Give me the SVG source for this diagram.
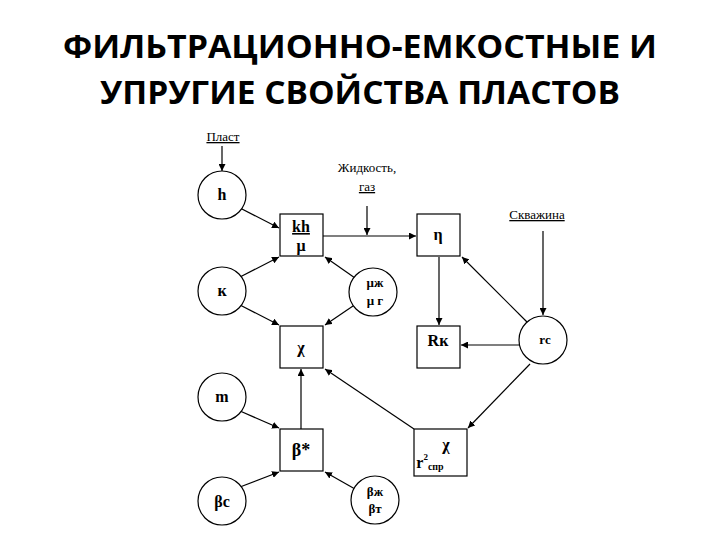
<svg xmlns="http://www.w3.org/2000/svg" width="720" height="540" viewBox="0 0 720 540">
<defs>
<marker id="a" viewBox="0 0 10 10" refX="10" refY="5" markerWidth="7" markerHeight="7" orient="auto" markerUnits="userSpaceOnUse"><path d="M0,0L10,5L0,10z" fill="#000"/></marker>
<style>
.t{font-family:"Open Sans","Liberation Sans",sans-serif;font-weight:bold;font-size:33px;text-anchor:middle}
.n circle,.n rect{fill:#fff;stroke:#000;stroke-width:1.2}
.n text,.l{font-family:"Liberation Serif",serif;text-anchor:middle;font-size:16px}
.n text{font-weight:bold}
.l{font-size:13px;text-decoration:underline}
#c line{stroke:#000;stroke-width:1.2;marker-end:url(#a)}
</style>
</defs>
<rect width="720" height="540" fill="#fff"/>
<text class="t" x="360" y="58" textLength="594" lengthAdjust="spacingAndGlyphs">ФИЛЬТРАЦИОННО-ЕМКОСТНЫЕ И</text>
<text class="t" x="360" y="104" textLength="520" lengthAdjust="spacingAndGlyphs">УПРУГИЕ СВОЙСТВА ПЛАСТОВ</text>
<text class="l" x="223" y="141">Пласт</text>
<text class="l" x="367" y="172" style="text-decoration:none">Жидкость,</text>
<text class="l" x="367" y="191">газ</text>
<text class="l" x="537" y="219">Скважина</text>
<g id="c">
<line x1="222" y1="146" x2="222" y2="171"/>
<line x1="367" y1="206" x2="367" y2="235"/>
<line x1="543" y1="231" x2="543" y2="315"/>
<line x1="240" y1="208" x2="279" y2="228"/>
<line x1="323" y1="236" x2="416" y2="236"/>
<line x1="439" y1="257" x2="439" y2="325"/>
<line x1="519" y1="345" x2="461" y2="345"/>
<line x1="527" y1="322" x2="462" y2="257"/>
<line x1="530" y1="364" x2="468" y2="428"/>
<line x1="414" y1="429" x2="325" y2="369"/>
<line x1="301" y1="429" x2="301" y2="369"/>
<line x1="240" y1="411" x2="279" y2="428"/>
<line x1="240" y1="487" x2="279" y2="472"/>
<line x1="355" y1="489" x2="325" y2="472"/>
<line x1="240" y1="277" x2="279" y2="257"/>
<line x1="240" y1="305" x2="279" y2="325"/>
<line x1="355" y1="278" x2="325" y2="257"/>
<line x1="353" y1="306" x2="325" y2="325"/>
</g>
<g id="h" class="n"><circle cx="222" cy="195" r="24"/><text x="222" y="200">h</text></g>
<g id="k" class="n"><circle cx="222" cy="291" r="24"/><text x="222" y="296">к</text></g>
<g id="mu" class="n"><circle cx="373" cy="292" r="24"/><text x="375" y="287" style="font-size:13px">μж</text><text x="375" y="305" style="font-size:13px">μ г</text></g>
<g id="m" class="n"><circle cx="222" cy="397" r="24"/><text x="222" y="402">m</text></g>
<g id="bc" class="n"><circle cx="222" cy="501" r="24"/><text x="222" y="507">βc</text></g>
<g id="bzh" class="n"><circle cx="375" cy="500" r="24"/><text x="375" y="496" style="font-size:13px">βж</text><text x="375" y="513" style="font-size:13px">βт</text></g>
<g id="rc" class="n"><circle cx="543" cy="340" r="24"/><text x="545" y="344" style="font-size:13px">rc</text></g>
<g id="kh" class="n"><rect x="280" y="214" width="43" height="42"/><text x="301" y="232" style="text-decoration:underline">kh</text><text x="301" y="251">μ</text></g>
<g id="chi" class="n"><rect x="280" y="326" width="43" height="42"/><text x="301" y="353">χ</text></g>
<g id="beta" class="n"><rect x="280" y="429" width="43" height="42"/><text x="301" y="456" style="font-size:18px">β*</text></g>
<g id="eta" class="n"><rect x="417" y="214" width="43" height="42"/><text x="438" y="240">η</text></g>
<g id="rk" class="n"><rect x="417" y="326" width="43" height="42"/><text x="438" y="346">Rк</text></g>
<g id="chir" class="n"><rect x="414" y="429" width="53" height="47"/><text x="446" y="450" style="text-decoration:underline">χ</text><text x="430" y="468">r<tspan dy="-8" style="font-size:9px">2</tspan><tspan dy="10" style="font-size:10px">спр</tspan></text></g>
</svg>
